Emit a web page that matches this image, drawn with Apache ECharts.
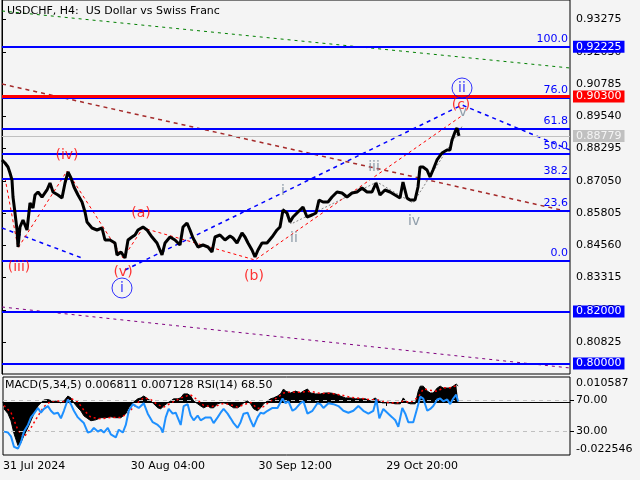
<!DOCTYPE html>
<html><head><meta charset="utf-8">
<script src="https://cdn.jsdelivr.net/npm/echarts@6/dist/echarts.min.js"></script>
<style>html,body{margin:0;padding:0;background:#f4f4f4}#c{width:640px;height:480px}</style>
</head><body><div id="c"></div>
<script>
const FONT = 'DejaVu Sans';
// ---------- data ----------
const titleText = 'USDCHF, H4:  US Dollar vs Swiss Franc';
const indicatorText = 'MACD(5,34,5) 0.006811 0.007128 RSI(14) 68.50';
const priceTicks = [0.93275,0.92030,0.90785,0.89540,0.88295,0.87050,0.85805,0.84560,0.83315,0.82070,0.80825];
const priceMin = 0.79591, priceMax = 0.94028;
const timeTickBars = [0,128,256,384];
const timeTickLabels = ['31 Jul 2024','30 Aug 04:00','30 Sep 12:00','29 Oct 20:00'];
const barMax = 568;

// close prices [bar, price]
const closes = [[0,0.87852],[3,0.87736],[6,0.87581],[8,0.87350],[10,0.87080],[11,0.86423],[13,0.85806],[15,0.85150],[16,0.84493],[18,0.85265],[21,0.85536],[25,0.85150],[28,0.86192],[31,0.85999],[33,0.86501],[36,0.86616],[40,0.86423],[45,0.86694],[48,0.86964],[51,0.86616],[56,0.86501],[60,0.86385],[63,0.86964],[66,0.87388],[69,0.87157],[72,0.86809],[76,0.86501],[80,0.86230],[83,0.85844],[85,0.85458],[90,0.85227],[95,0.85150],[100,0.85227],[103,0.84764],[108,0.84764],[113,0.84648],[115,0.84185],[119,0.84300],[123,0.84069],[126,0.84764],[130,0.84879],[133,0.84957],[136,0.85150],[141,0.85265],[145,0.85150],[150,0.84879],[155,0.84648],[160,0.84185],[163,0.84648],[168,0.84879],[173,0.84764],[178,0.84571],[181,0.85265],[185,0.85420],[188,0.85150],[191,0.84841],[196,0.84493],[201,0.84571],[206,0.84493],[210,0.84300],[213,0.84879],[218,0.84957],[223,0.84764],[228,0.84918],[231,0.84841],[235,0.84648],[240,0.85034],[243,0.84879],[246,0.84648],[250,0.84378],[253,0.84107],[256,0.84378],[260,0.84648],[265,0.84648],[270,0.84879],[275,0.85150],[278,0.85265],[281,0.85922],[285,0.85806],[288,0.85458],[291,0.85651],[296,0.85844],[301,0.86037],[305,0.85651],[310,0.85729],[314,0.85806],[317,0.86308],[321,0.86230],[326,0.86230],[330,0.86423],[335,0.86616],[340,0.86578],[345,0.86423],[350,0.86578],[355,0.86616],[360,0.86771],[365,0.86616],[370,0.86616],[374,0.86964],[378,0.86501],[383,0.86694],[388,0.86616],[393,0.86501],[398,0.86385],[401,0.87002],[405,0.86385],[408,0.86308],[413,0.86308],[416,0.86809],[418,0.87581],[421,0.87581],[425,0.87466],[428,0.87195],[431,0.87466],[435,0.87852],[440,0.88122],[445,0.88238],[448,0.88238],[450,0.88624],[453,0.88932],[455,0.89087],[457,0.88779]];

const fibNames = ['100.0','76.0','61.8','50.0','38.2','23.6','0.0'];
const fibPrices = [0.92225,0.90240,0.89065,0.88089,0.87113,0.85905,0.83953];
const boxLevels = [0.92225,0.90300,0.88779,0.82000,0.80000];

// trend lines [bar, price]
const greenLine = [[0,0.93603],[568,0.91403]];
const brownLine = [[0,0.90785],[568,0.85844]];
const purpleLine = [[0,0.82177],[568,0.79823]];
const blueShort = [[0,0.85227],[80,0.84069]];
const blueWave = [[123,0.83606],[460,0.89975],[568,0.88238]];
const redWave = [[3,0.87157],[16,0.84455],[65,0.87427],[121,0.84069],[141,0.85227],[253,0.83992],[461,0.89589]];
const grayWave = [[281,0.85999],[289,0.85381],[375,0.87002],[411,0.86192],[461,0.89203]];

const redLabels = [[17,0.83722,'(iii)'],[65,0.88045,'(iv)'],[139,0.85806,'(a)'],[121,0.83528,'(v)'],[252,0.83374,'(b)'],[459,0.89975,'(c)']];
const grayLabels = [[281,0.86655,'i'],[292,0.84841,'ii'],[372,0.87581,'iii'],[412,0.85497,'iv'],[461,0.89705,'v']];
const circledLabels = [[120,0.82911,'i'],[460,0.90631,'ii']];

// indicator window
const macdMin = -0.022546, macdMax = 0.010587;
const rsiLevels = [70,30];
const macd = [[1,-0.0029],[5,-0.0050],[8,-0.0080],[11,-0.0134],[15,-0.0185],[16,-0.0193],[18,-0.0172],[21,-0.0143],[25,-0.0109],[28,-0.0080],[31,-0.0050],[35,-0.0017],[38,-0.0004],[41,0.0008],[45,0.0010],[48,0.0006],[51,0.0004],[55,0.0002],[58,-0.0004],[61,0.0004],[65,0.0025],[68,0.0017],[71,-0.0004],[75,-0.0025],[78,-0.0038],[81,-0.0059],[85,-0.0071],[88,-0.0080],[93,-0.0076],[98,-0.0067],[103,-0.0067],[108,-0.0063],[113,-0.0067],[118,-0.0067],[123,-0.0050],[126,-0.0025],[130,-0.0004],[135,0.0013],[138,0.0017],[141,0.0025],[145,0.0013],[148,0.0004],[151,-0.0008],[155,-0.0025],[158,-0.0029],[161,-0.0017],[165,-0.0004],[168,0.0004],[171,0.0013],[175,0.0013],[178,0.0017],[181,0.0034],[185,0.0034],[188,0.0025],[191,0.0004],[195,-0.0008],[198,-0.0017],[201,-0.0025],[205,-0.0017],[208,-0.0025],[211,-0.0025],[215,-0.0008],[218,-0.0004],[221,-0.0004],[225,-0.0008],[228,-0.0017],[231,-0.0025],[235,-0.0025],[238,-0.0017],[241,-0.0004],[245,0.0004],[248,-0.0008],[251,-0.0029],[255,-0.0038],[258,-0.0025],[261,-0.0008],[265,0.0004],[268,0.0013],[271,0.0017],[275,0.0025],[278,0.0034],[281,0.0055],[283,0.0046],[288,0.0038],[293,0.0046],[298,0.0038],[301,0.0046],[305,0.0055],[308,0.0038],[313,0.0034],[318,0.0034],[323,0.0038],[328,0.0038],[333,0.0034],[338,0.0025],[343,0.0017],[348,0.0017],[353,0.0013],[358,0.0013],[363,0.0013],[368,0.0004],[373,0.0017],[376,0.0004],[380,-0.0004],[383,-0.0004],[388,-0.0004],[393,-0.0008],[398,-0.0008],[401,0.0017],[405,-0.0004],[408,-0.0008],[413,-0.0008],[416,0.0046],[418,0.0067],[421,0.0067],[425,0.0046],[428,0.0038],[431,0.0038],[435,0.0059],[438,0.0067],[441,0.0059],[445,0.0059],[448,0.0059],[451,0.0067],[454,0.0076],[456,0.0068]];
const signal = [[1,-0.0015],[8,-0.0045],[15,-0.0120],[21,-0.0150],[28,-0.0110],[35,-0.0060],[41,-0.0020],[48,0.0003],[55,0.0004],[61,0.0002],[68,0.0015],[75,0.0000],[81,-0.0035],[88,-0.0065],[98,-0.0072],[108,-0.0066],[118,-0.0066],[126,-0.0045],[133,-0.0010],[141,0.0018],[148,0.0010],[155,-0.0012],[161,-0.0022],[168,-0.0005],[175,0.0010],[181,0.0022],[188,0.0030],[195,0.0008],[201,-0.0015],[208,-0.0020],[215,-0.0015],[221,-0.0006],[228,-0.0012],[235,-0.0022],[241,-0.0012],[248,-0.0002],[255,-0.0028],[261,-0.0020],[268,0.0004],[275,0.0018],[281,0.0038],[288,0.0042],[298,0.0041],[308,0.0045],[318,0.0036],[328,0.0037],[338,0.0030],[348,0.0020],[358,0.0015],[368,0.0010],[376,0.0008],[383,0.0000],[393,-0.0006],[401,0.0004],[408,-0.0002],[416,0.0020],[421,0.0055],[428,0.0050],[435,0.0045],[441,0.0060],[448,0.0060],[456,0.0071]];
const rsi = [[1,30.0],[5,28.8],[8,23.9],[11,10.6],[15,8.2],[18,16.7],[21,30.0],[25,38.5],[28,48.2],[31,53.0],[35,60.3],[38,54.2],[41,59.1],[45,62.7],[48,56.7],[51,53.0],[55,54.2],[58,47.0],[61,56.7],[65,71.2],[68,65.2],[71,56.7],[75,48.2],[78,44.5],[81,40.9],[85,28.8],[88,30.0],[91,34.8],[95,30.0],[98,32.4],[101,28.8],[105,34.8],[108,26.4],[113,22.7],[116,32.4],[120,28.8],[123,38.5],[126,56.7],[130,65.2],[133,62.7],[136,60.3],[141,66.4],[145,53.0],[150,42.1],[155,38.5],[158,34.8],[160,28.8],[163,48.2],[166,59.1],[170,53.0],[173,54.2],[178,38.5],[181,62.7],[185,65.2],[188,50.6],[191,44.5],[195,50.6],[198,44.5],[203,48.2],[208,48.2],[211,40.9],[215,48.2],[218,54.2],[221,59.1],[225,53.0],[228,47.0],[231,40.9],[235,34.8],[238,42.1],[241,53.0],[245,54.2],[248,44.5],[251,36.1],[255,48.2],[258,54.2],[261,53.0],[265,56.7],[270,60.3],[275,60.3],[280,72.4],[283,66.4],[286,68.8],[290,56.7],[293,59.1],[298,66.4],[301,68.8],[305,53.0],[310,56.7],[315,66.4],[318,65.2],[321,60.3],[326,66.4],[331,65.2],[336,62.7],[341,56.7],[346,54.2],[351,56.7],[356,62.7],[361,56.7],[366,53.0],[371,56.7],[374,71.2],[377,47.0],[381,59.1],[386,53.0],[390,48.2],[393,44.5],[396,36.1],[400,60.3],[403,53.0],[406,42.1],[411,42.1],[415,60.3],[418,74.8],[421,72.4],[425,56.7],[428,59.1],[431,62.7],[435,71.2],[438,72.4],[441,68.8],[445,71.2],[448,65.2],[451,72.4],[454,77.3],[456,68.5]];

// ---------- styles ----------
const boxColors = ['#0000ff','#ff0000','#c0c0c0','#0000ff','#0000ff'];
const boxText = ['#ffffff','#ffffff','#f4f4f4','#ffffff','#ffffff'];
const boxLineW = [2,3,1,2,2];
const txt = {fontFamily: FONT, fontSize: 11, color: '#000'};

const chart = echarts.init(document.getElementById('c'), null, {renderer: 'canvas'});

function dashed(data, color, width, type, z) {
  return {type:'line', xAxisIndex:0, yAxisIndex:0, data, symbol:'none', silent:true, z: z||3,
    lineStyle:{color, width, type}};
}

const fibLines = fibPrices.map((p,i)=>({yAxis:p,
  lineStyle:{color:'#0000ff', width:2, type:'solid'},
  label:{show:true, position:'insideEndTop', formatter: fibNames[i], color:'#0000ff', fontFamily:FONT, fontSize:11, distance:[2,2]}}));
const boxLines = boxLevels.map((p,i)=>({yAxis:p,
  lineStyle:{color:boxColors[i], width:boxLineW[i], type:'solid'},
  label:{show:true, position:'end', formatter: p.toFixed(5), color:boxText[i], backgroundColor:boxColors[i],
    fontFamily:FONT, fontSize:11, padding:[1,3,0,3], distance:3}}));

const option = {
  animation: false,
  backgroundColor: '#f4f4f4',
  title: [
    {text: titleText, left: 7, top: 6, padding: 0, textStyle: Object.assign({fontWeight:'normal'}, txt)},
    {text: indicatorText, left: 5, top: 380, padding: 0, textStyle: Object.assign({fontWeight:'normal'}, txt)}
  ],
  grid: [
    {left:2, top:0, width:568, height:374, show:true, borderColor:'#000', borderWidth:1, backgroundColor:'transparent'},
    {left:2, top:377, width:568, height:78, show:true, borderColor:'#000', borderWidth:1, backgroundColor:'transparent'}
  ],
  xAxis: [
    {type:'value', gridIndex:0, min:0, max:barMax, show:false},
    {type:'value', gridIndex:1, min:0, max:barMax,
      axisLine:{show:true, lineStyle:{color:'#000'}},
      axisTick:{show:true, customValues: timeTickBars, length:4, lineStyle:{color:'#000'}},
      axisLabel:{customValues: timeTickBars, formatter: v => timeTickLabels[timeTickBars.indexOf(v)] || '',
        align:'left', margin:6, fontFamily:FONT, fontSize:11, color:'#000'},
      splitLine:{show:false}}
  ],
  yAxis: [
    {type:'value', gridIndex:0, position:'right', min:priceMin, max:priceMax,
      axisLine:{show:true, lineStyle:{color:'#000'}},
      axisTick:{show:true, customValues: priceTicks, length:4, lineStyle:{color:'#000'}},
      axisLabel:{customValues: priceTicks, formatter: v => v.toFixed(5), margin:6, fontFamily:FONT, fontSize:11, color:'#000'},
      splitLine:{show:false}},
    {type:'value', gridIndex:1, position:'right', min:macdMin, max:macdMax,
      axisLine:{show:false}, axisTick:{show:false}, splitLine:{show:false},
      axisLabel:{customValues:[macdMax, macdMin], margin:6, fontFamily:FONT, fontSize:11, color:'#000',
        formatter: v => v === macdMax ? '{t|' + macdMax.toFixed(6) + '}' : '{b|' + macdMin.toFixed(6) + '}',
        rich:{t:{padding:[12,0,0,0], fontFamily:FONT, fontSize:11}, b:{padding:[0,0,12,0], fontFamily:FONT, fontSize:11}}}},
    {type:'value', gridIndex:1, position:'right', min:0, max:100,
      axisLine:{show:false}, splitLine:{show:false},
      axisTick:{show:true, customValues: rsiLevels, length:4, lineStyle:{color:'#000'}},
      axisLabel:{customValues: rsiLevels, formatter: v => v.toFixed(2), margin:6, fontFamily:FONT, fontSize:11, color:'#000'}}
  ],
  series: [
    // horizontal levels
    {type:'line', xAxisIndex:0, yAxisIndex:0, data:[], symbol:'none', silent:true, z:2,
      markLine:{silent:true, symbol:'none', animation:false, precision:6, data: fibLines.concat(boxLines)}},
    dashed(greenLine, '#008000', 1, [3,4]),
    dashed(brownLine, '#a52a2a', 1.5, [4,4]),
    dashed(purpleLine, '#800080', 1, [3,4]),
    dashed(blueShort, '#0000ff', 1.5, [4,4]),
    dashed(blueWave, '#0000ff', 1.5, [4,4]),
    dashed(redWave, '#ff0000', 1, [3,3]),
    dashed(grayWave, '#808080', 1, [2,2]),
    // price
    {type:'line', xAxisIndex:0, yAxisIndex:0, data: closes, symbol:'none', silent:true, z:5,
      lineStyle:{color:'#000', width:3}},
    // wave labels
    {type:'scatter', xAxisIndex:0, yAxisIndex:0, data: redLabels, symbolSize:0, silent:true, z:6,
      label:{show:true, position:'inside', formatter: p => p.data[2], color:'#ff0000', fontFamily:FONT, fontSize:14}},
    {type:'scatter', xAxisIndex:0, yAxisIndex:0, data: grayLabels, symbolSize:0, silent:true, z:6,
      label:{show:true, position:'inside', formatter: p => p.data[2], color:'#778899', fontFamily:FONT, fontSize:14}},
    {type:'scatter', xAxisIndex:0, yAxisIndex:0, data: circledLabels, symbol:'circle', symbolSize:20, silent:true, z:6,
      itemStyle:{color:'rgba(0,0,0,0)', borderColor:'#0000ff', borderWidth:1},
      label:{show:true, position:'inside', formatter: p => p.data[2], color:'#0000ff', fontFamily:FONT, fontSize:14}},
    // indicators
    {type:'line', xAxisIndex:1, yAxisIndex:1, data: macd, symbol:'none', silent:true, z:3,
      lineStyle:{color:'#000', width:1}, areaStyle:{color:'#000', opacity:1, origin:0}},
    {type:'line', xAxisIndex:1, yAxisIndex:1, data: signal, symbol:'none', silent:true, z:4,
      lineStyle:{color:'#ff0000', width:1.5, type:[2,3]}},
    {type:'line', xAxisIndex:1, yAxisIndex:2, data: rsi, symbol:'none', silent:true, z:5,
      lineStyle:{color:'#1e90ff', width:2},
      markLine:{silent:true, symbol:'none', animation:false, precision:2, label:{show:false},
        lineStyle:{color:'#c0c0c0', width:1, type:[4,4]},
        data: rsiLevels.map(v => ({yAxis:v}))}}
  ]
};
chart.setOption(option);
</script></body></html>
